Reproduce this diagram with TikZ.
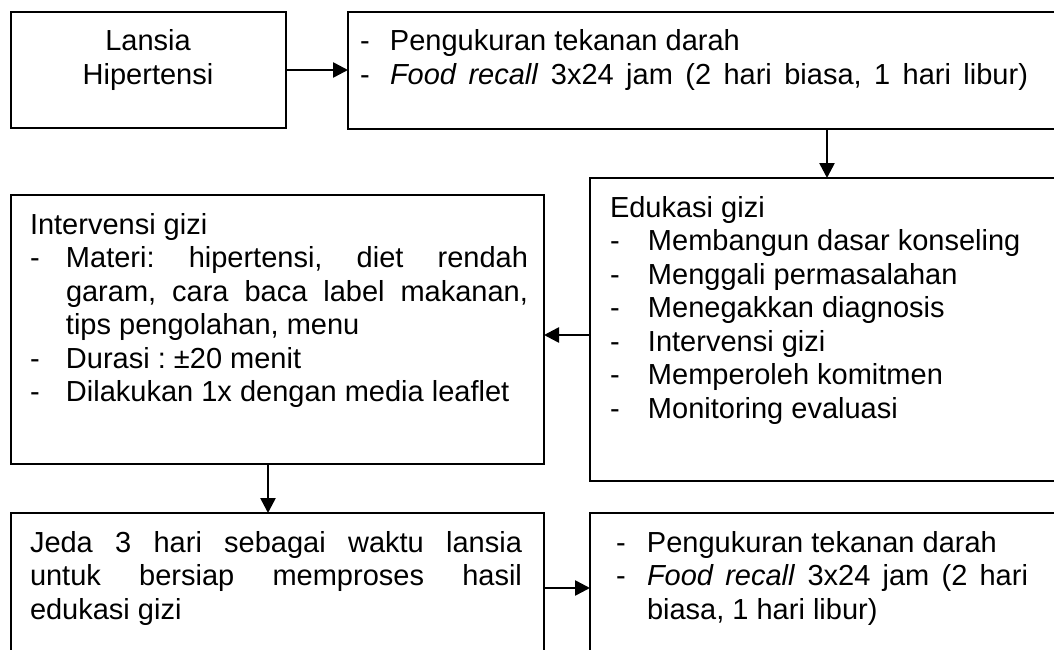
\documentclass[tikz,border=0pt]{standalone}
\usepackage{fontspec}
\setmainfont{Liberation Sans}
\usetikzlibrary{arrows.meta}
\newcommand{\dsh}[1]{\makebox[#1][l]{-}}
\tikzset{
  box/.style={draw=black, line width=2.3pt, rectangle, inner sep=0pt, outer sep=0pt, anchor=north west},
  txt/.style={inner sep=0pt, outer sep=0pt, anchor=base west, font=\fontsize{29}{33.5}\selectfont\frenchspacing},
  arr/.style={line width=2.6pt, -{Triangle[length=15pt,width=15pt]}}
}
\begin{document}
\begin{tikzpicture}[x=1pt,y=-1pt]
\useasboundingbox (0,0) rectangle (1054,650);
\fill[white] (0,0) rectangle (1054,650);
\clip (0,0) rectangle (1054,650);
% boxes
\node[box, minimum width=275pt, minimum height=116pt] (A) at (11,12) {};
\node[box, minimum width=722pt, minimum height=117pt] (B) at (348,12) {};
\node[box, minimum width=480pt, minimum height=303pt] (C) at (590,178) {};
\node[box, minimum width=533pt, minimum height=269pt] (D) at (11,195) {};
\node[box, minimum width=533pt, minimum height=167pt] (E) at (11,513) {};
\node[box, minimum width=480pt, minimum height=167pt] (F) at (590,513) {};
% texts
\node[txt, anchor=base] (tA) at (148,51) {\parbox[t]{250pt}{\centering Lansia\\Hipertensi}};
\node[txt] (tB) at (360,51) {\parbox[t]{690pt}{\dsh{30pt}Pengukuran tekanan darah\\
\dsh{30pt}\makebox[638pt][s]{\textit{Food recall} 3x24 jam (2 hari biasa, 1 hari libur)}}};
\node[txt] (tC) at (610,217) {\parbox[t]{440pt}{Edukasi gizi\\
\dsh{38pt}Membangun dasar konseling\\
\dsh{38pt}Menggali permasalahan\\
\dsh{38pt}Menegakkan diagnosis\\
\dsh{38pt}Intervensi gizi\\
\dsh{38pt}Memperoleh komitmen\\
\dsh{38pt}Monitoring evaluasi}};
\node[txt] (tD) at (30,234) {\parbox[t]{510pt}{Intervensi gizi\\
\dsh{36pt}\makebox[462pt][s]{Materi: hipertensi, diet rendah}\\
\hspace*{36pt}\makebox[462pt][s]{garam, cara baca label makanan,}\\
\hspace*{36pt}tips pengolahan, menu\\
\dsh{36pt}Durasi : ±20 menit\\
\dsh{36pt}Dilakukan 1x dengan media leaflet}};
\node[txt] (tE) at (30,552) {\parbox[t]{510pt}{\makebox[492pt][s]{Jeda 3 hari sebagai waktu lansia}\\
\makebox[492pt][s]{untuk bersiap memproses hasil}\\
edukasi gizi}};
\node[txt] (tF) at (616,552) {\parbox[t]{440pt}{\dsh{31pt}Pengukuran tekanan darah\\
\dsh{31pt}\makebox[381pt][s]{\textit{Food recall} 3x24 jam (2 hari}\\
\hspace*{31pt}biasa, 1 hari libur)}};
% connectors
\draw[arr] (A.east) -- (A.east -| B.west);
\draw[arr] ([xshift=479pt]B.south west) -- ([xshift=237pt]C.north west);
\draw[arr] ([yshift=-157pt]C.north west) -- ([yshift=-140pt]D.north east);
\draw[arr] ([xshift=257pt]D.south west) -- ([xshift=257pt]E.north west);
\draw[arr] ([yshift=-75pt]E.north east) -- ([yshift=-75pt]F.north west);
\end{tikzpicture}
\end{document}
